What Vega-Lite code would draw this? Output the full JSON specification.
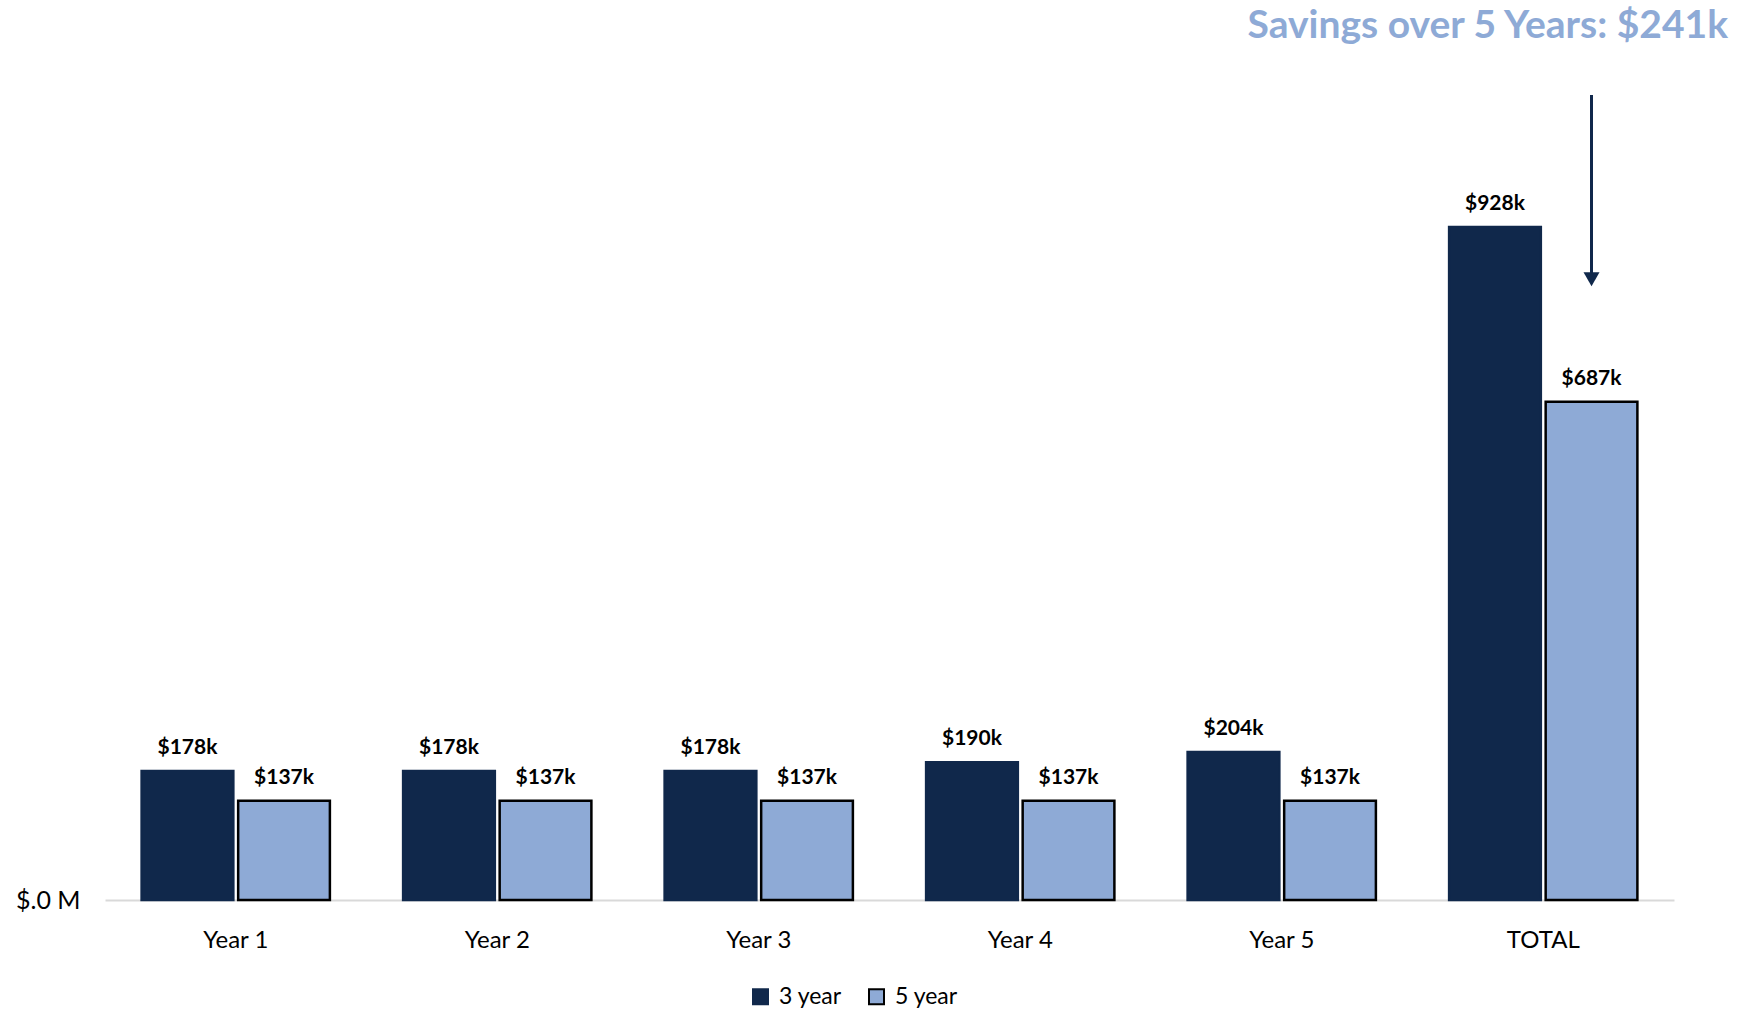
{
  "$schema": "https://vega.github.io/schema/vega-lite/v6.json",
  "width": 1569,
  "height": 805,
  "autosize": "none",
  "padding": {"left": 105, "top": 95, "right": 63, "bottom": 109},
  "background": "white",
  "config": {"view": {"stroke": null}, "font": "Lato"},
  "title": {
    "text": "Savings over 5 Years: $241k",
    "anchor": "end",
    "frame": "group",
    "dx": 54,
    "offset": 17,
    "baseline": "alphabetic",
    "fontSize": 39,
    "font": "Lato",
    "fontWeight": "bold",
    "color": "#8EAAD6"
  },
  "datasets": {
    "costs": [
      {"category": "Year 1", "series": "3 year", "value": 178},
      {"category": "Year 1", "series": "5 year", "value": 137},
      {"category": "Year 2", "series": "3 year", "value": 178},
      {"category": "Year 2", "series": "5 year", "value": 137},
      {"category": "Year 3", "series": "3 year", "value": 178},
      {"category": "Year 3", "series": "5 year", "value": 137},
      {"category": "Year 4", "series": "3 year", "value": 190},
      {"category": "Year 4", "series": "5 year", "value": 137},
      {"category": "Year 5", "series": "3 year", "value": 204},
      {"category": "Year 5", "series": "5 year", "value": 137},
      {"category": "TOTAL", "series": "3 year", "value": 928},
      {"category": "TOTAL", "series": "5 year", "value": 687}
    ],
    "arrow": [
      {"category": "TOTAL", "series": "5 year", "start": 1110, "end": 858, "tip": 856}
    ]
  },
  "layer": [
    {
      "data": {"name": "costs"},
      "mark": {"type": "bar", "strokeWidth": 2.5},
      "encoding": {
        "x": {
          "field": "category",
          "type": "nominal",
          "scale": {"domain": ["Year 1", "Year 2", "Year 3", "Year 4", "Year 5", "TOTAL"], "paddingInner": 0.28, "paddingOuter": 0.14},
          "axis": {"title": null, "labelAngle": 0, "labelFontSize": 24, "labelFont": "Lato", "labelColor": "#000000", "labelPadding": 28, "ticks": false, "domainColor": "#D9D9D9", "domainWidth": 2}
        },
        "xOffset": {
          "field": "series",
          "type": "nominal",
          "scale": {"domain": ["3 year", "5 year"], "paddingInner": 0.05}
        },
        "y": {
          "field": "value",
          "type": "quantitative",
          "scale": {"domain": [0, 1110], "nice": false},
          "axis": {"title": null, "values": [0], "labelExpr": "'$.0 M'", "grid": false, "domain": false, "ticks": false, "labelFontSize": 25, "labelFont": "Lato", "labelPadding": 25, "labelColor": "#000000"}
        },
        "fill": {
          "field": "series",
          "type": "nominal",
          "scale": {"domain": ["3 year", "5 year"], "range": ["#10284B", "#8EAAD6"]},
          "legend": {"orient": "none", "legendX": 644, "legendY": 890, "direction": "horizontal", "title": null, "symbolType": "square", "symbolSize": 225, "symbolStrokeWidth": 2, "labelFontSize": 23, "labelFont": "Lato", "labelColor": "#000000", "labelOffset": 7, "columnPadding": 23, "padding": 0}
        },
        "stroke": {
          "field": "series",
          "type": "nominal",
          "scale": {"domain": ["3 year", "5 year"], "range": ["#10284B", "#000000"]},
          "legend": {"orient": "none", "legendX": 644, "legendY": 890, "direction": "horizontal", "title": null, "symbolType": "square", "symbolSize": 225, "symbolStrokeWidth": 2, "labelFontSize": 23, "labelFont": "Lato", "labelColor": "#000000", "labelOffset": 7, "columnPadding": 23, "padding": 0}
        }
      }
    },
    {
      "data": {"name": "costs"},
      "transform": [{"calculate": "'$' + datum.value + 'k'", "as": "label"}],
      "mark": {"type": "text", "fontSize": 21, "fontWeight": "bold", "font": "Lato", "baseline": "alphabetic", "dy": -17, "color": "#000000"},
      "encoding": {
        "x": {"field": "category", "type": "nominal"},
        "xOffset": {"field": "series", "type": "nominal"},
        "y": {"field": "value", "type": "quantitative"},
        "text": {"field": "label", "type": "nominal"}
      }
    },
    {
      "data": {"name": "arrow"},
      "mark": {"type": "rule", "color": "#10284B", "strokeWidth": 3},
      "encoding": {
        "x": {"field": "category", "type": "nominal"},
        "xOffset": {"field": "series", "type": "nominal"},
        "y": {"field": "start", "type": "quantitative"},
        "y2": {"field": "end"}
      }
    },
    {
      "data": {"name": "arrow"},
      "mark": {"type": "point", "shape": "triangle-down", "filled": true, "color": "#10284B", "size": 256, "opacity": 1},
      "encoding": {
        "x": {"field": "category", "type": "nominal"},
        "xOffset": {"field": "series", "type": "nominal"},
        "y": {"field": "tip", "type": "quantitative"}
      }
    }
  ]
}
